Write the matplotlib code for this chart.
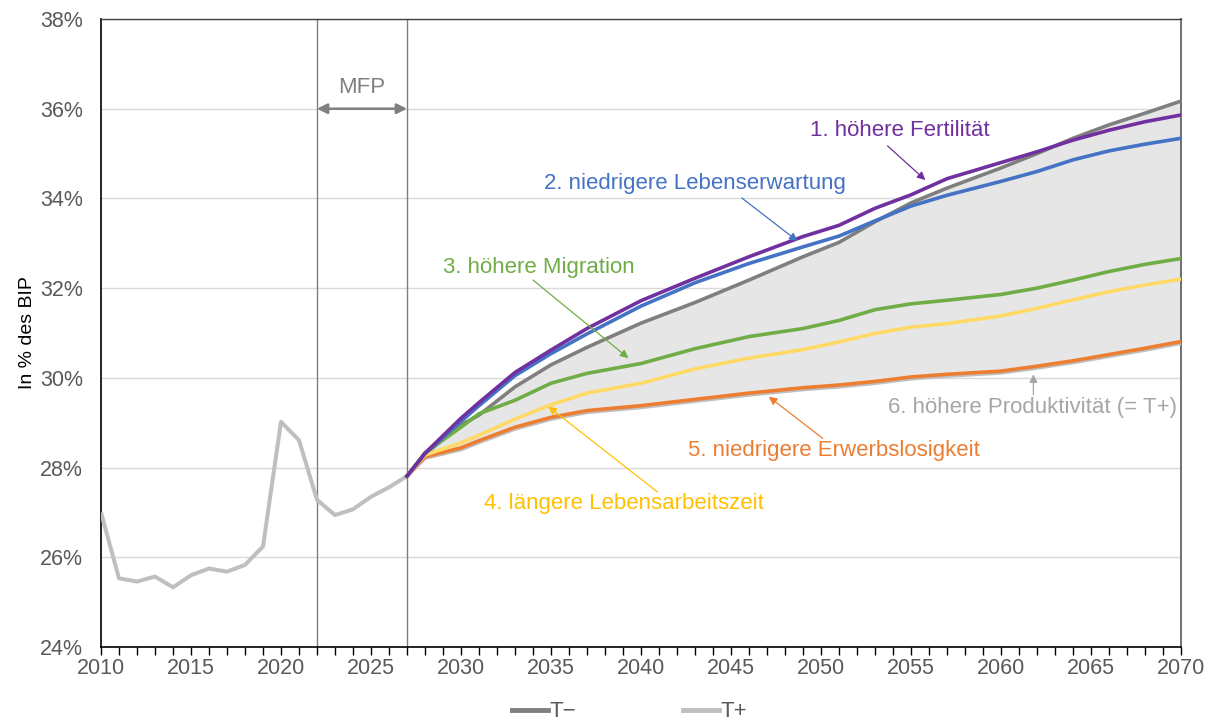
import matplotlib
matplotlib.use("Agg")
import matplotlib.pyplot as plt
from matplotlib.ticker import MultipleLocator, FuncFormatter
from matplotlib.lines import Line2D

plt.rcParams['font.family'] = ['Liberation Sans', 'DejaVu Sans']

# ---- data ----
hist_years = list(range(2010, 2028))
hist_vals = [27.0, 25.53, 25.46, 25.57, 25.33, 25.60, 25.75, 25.68, 25.83, 26.24,
             29.02, 28.61, 27.28, 26.94, 27.07, 27.35, 27.56, 27.81]

proj_years = [2027, 2028, 2030, 2031, 2033, 2035, 2037, 2040, 2043, 2046, 2049,
              2051, 2053, 2055, 2057, 2060, 2062, 2064, 2066, 2068, 2070]
t_minus = [27.81, 28.30, 28.95, 29.17, 29.80, 30.29, 30.68, 31.22, 31.68, 32.18, 32.70,
           33.02, 33.48, 33.90, 34.23, 34.68, 35.00, 35.34, 35.64, 35.90, 36.17]
fertility = [27.81, 28.32, 29.10, 29.45, 30.12, 30.62, 31.10, 31.72, 32.22, 32.70, 33.15,
             33.40, 33.78, 34.08, 34.44, 34.80, 35.04, 35.30, 35.52, 35.71, 35.86]
life_exp = [27.81, 28.31, 29.03, 29.38, 30.05, 30.54, 30.98, 31.60, 32.12, 32.55, 32.92,
            33.16, 33.50, 33.83, 34.07, 34.38, 34.60, 34.86, 35.06, 35.21, 35.34]
migration = [27.81, 28.33, 28.90, 29.20, 29.50, 29.88, 30.10, 30.32, 30.65, 30.92, 31.10,
             31.28, 31.52, 31.65, 31.73, 31.86, 32.00, 32.18, 32.37, 32.53, 32.66]
work_life = [27.81, 28.28, 28.55, 28.72, 29.08, 29.40, 29.66, 29.88, 30.20, 30.44, 30.63,
             30.80, 30.99, 31.13, 31.21, 31.38, 31.55, 31.74, 31.92, 32.07, 32.20]
unemployment = [27.81, 28.24, 28.44, 28.60, 28.90, 29.12, 29.27, 29.38, 29.52, 29.66, 29.78,
                29.84, 29.92, 30.02, 30.08, 30.15, 30.26, 30.38, 30.52, 30.66, 30.81]
t_plus = [27.81, 28.21, 28.40, 28.56, 28.86, 29.08, 29.23, 29.34, 29.48, 29.62, 29.74,
          29.80, 29.88, 29.98, 30.04, 30.11, 30.22, 30.34, 30.48, 30.62, 30.77]

mfp_start, mfp_end = 2022, 2027

labels = ["1. höhere Fertilität", "2. niedrigere Lebenserwartung", "3. höhere Migration",
          "4. längere Lebensarbeitszeit", "5. niedrigere Erwerbslosigkeit",
          "6. höhere Produktivität (= T+)"]

# ---- colours ----
C_TM = "#7F7F7F"
C_TP = "#BFBFBF"
C_FILL = "#E7E6E6"
C_PUR = "#7030A0"
C_BLU = "#4472C4"
C_GRN = "#70AD47"
C_YEL = "#FFD966"
C_YEL_T = "#FFC000"
C_ORA = "#ED7D31"
C_LBL6 = "#A6A6A6"
C_TXT = "#595959"

fig = plt.figure(figsize=(12.11, 7.22), dpi=100)
ax = fig.add_axes([101/1211, 1-647/722, (1181-101)/1211, (647-19)/722])

ax.set_xlim(2010, 2070)
ax.set_ylim(24, 38)

for v in range(24, 39, 2):
    ax.axhline(v, color="#D9D9D9", lw=1.0, zorder=0)

ax.fill_between(proj_years, t_plus, t_minus, color=C_FILL, lw=0, zorder=1)

ax.axvline(mfp_start, color=C_TM, lw=1.0, zorder=2)
ax.axvline(mfp_end, color=C_TM, lw=1.0, zorder=2)

lw = 2.6
ax.plot(hist_years, hist_vals, color=C_TP, lw=2.9, zorder=3, solid_capstyle='butt')
ax.plot(proj_years, t_plus, color=C_TP, lw=lw, zorder=3)
ax.plot(proj_years, t_minus, color=C_TM, lw=lw, zorder=4)
ax.plot(proj_years, unemployment, color=C_ORA, lw=lw, zorder=5)
ax.plot(proj_years, work_life, color=C_YEL, lw=lw, zorder=5)
ax.plot(proj_years, migration, color=C_GRN, lw=lw, zorder=5)
ax.plot(proj_years, life_exp, color=C_BLU, lw=lw, zorder=5)
ax.plot(proj_years, fertility, color=C_PUR, lw=lw, zorder=6)

# MFP arrow
ax.annotate("", xy=(mfp_start, 36.0), xytext=(mfp_end, 36.0),
            arrowprops=dict(arrowstyle="<|-|>", color=C_TM, lw=1.8,
                            mutation_scale=15, shrinkA=0, shrinkB=0), zorder=7)
ax.text((mfp_start + mfp_end) / 2, 36.48, "MFP", color=C_TM, fontsize=16,
        ha="center", va="center")

fs = 16
def label(text, txy, atail, ahead, color, tcolor=None):
    ax.text(txy[0], txy[1], text, color=tcolor or color, fontsize=fs,
            ha="left", va="center", zorder=8)
    ax.annotate("", xy=ahead, xytext=atail,
                arrowprops=dict(arrowstyle="-|>", color=color, lw=0.9,
                                mutation_scale=12, shrinkA=0, shrinkB=0), zorder=8)

label(labels[0], (2049.4, 35.52), (2053.7, 35.17), (2055.8, 34.41), C_PUR)
label(labels[1], (2034.6, 34.34), (2045.6, 34.01), (2048.7, 33.05), C_BLU)
label(labels[2], (2029.0, 32.45), (2034.0, 32.18), (2039.3, 30.44), C_GRN)
label(labels[3], (2031.3, 27.21), (2040.9, 27.46), (2034.85, 29.36), C_YEL_T)
label(labels[4], (2042.6, 28.39), (2050.1, 28.65), (2047.1, 29.58), C_ORA)
label(labels[5], (2053.7, 29.35), (2061.8, 29.62), (2061.8, 30.08), C_LBL6)

# axes styling
ax.xaxis.set_major_locator(MultipleLocator(5))
ax.xaxis.set_minor_locator(MultipleLocator(1))
ax.yaxis.set_major_locator(MultipleLocator(2))
ax.yaxis.set_major_formatter(FuncFormatter(lambda v, p: f"{v:.0f}%"))
ax.tick_params(axis="x", which="both", direction="out", length=6, width=1,
               color="black", labelsize=15.5, labelcolor=C_TXT, pad=2)
ax.tick_params(axis="y", length=0, labelsize=15.5, labelcolor=C_TXT, pad=13)
ax.set_ylabel("In % des BIP", fontsize=14, color="black", labelpad=3)

for s in ["left", "bottom"]:
    ax.spines[s].set_color("black")
    ax.spines[s].set_linewidth(1.2)
ax.spines["top"].set_color("#404040")
ax.spines["top"].set_linewidth(1.0)
ax.spines["right"].set_color("#595959")
ax.spines["right"].set_linewidth(1.2)

handles = [Line2D([0], [0], color=C_TM, lw=3.5), Line2D([0], [0], color=C_TP, lw=3.5)]
fig.legend(handles, ["T\u2212", "T+"], loc="center", bbox_to_anchor=(0.52, 0.014),
           ncol=2, frameon=False, fontsize=16, labelcolor=C_TXT,
           handlelength=1.6, handletextpad=0.1, columnspacing=4.8)

fig.savefig("out.png", dpi=100)
